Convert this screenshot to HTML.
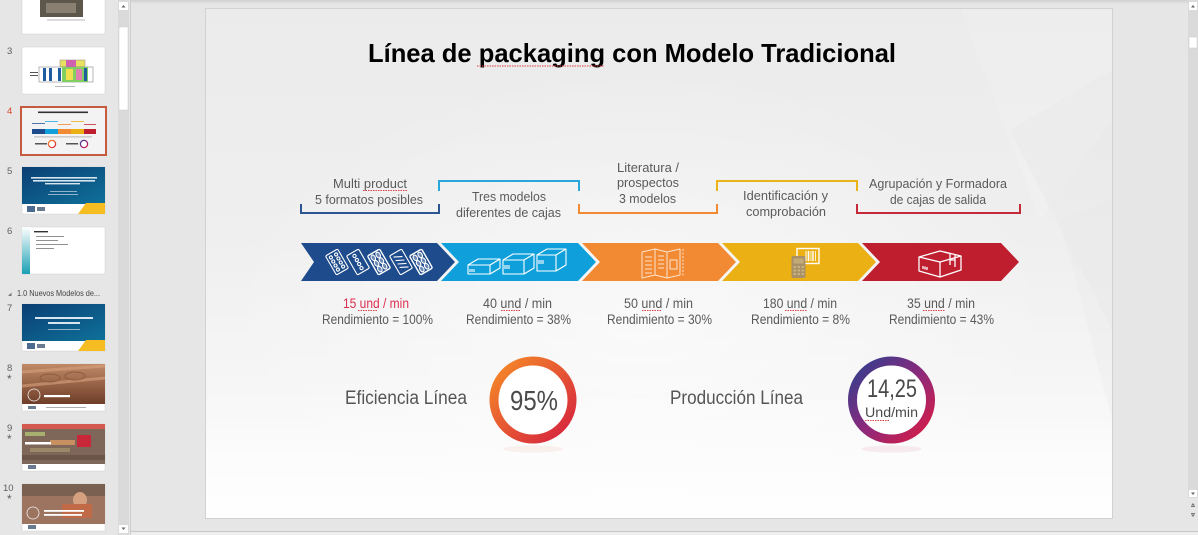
<!DOCTYPE html>
<html><head><meta charset="utf-8">
<style>
html,body{margin:0;padding:0;width:1198px;height:535px;overflow:hidden;background:#e6e6e6;}
svg{display:block;font-family:"Liberation Sans",Arial,sans-serif;}
</style></head><body>
<svg width="1198" height="535" viewBox="0 0 1198 535" xmlns="http://www.w3.org/2000/svg">
<defs>
 <linearGradient id="sbgl" x1="0" y1="0" x2="0" y2="1">
  <stop offset="0" stop-color="#ebebeb"/>
  <stop offset="0.45" stop-color="#efefef"/>
  <stop offset="0.75" stop-color="#f6f6f6"/>
  <stop offset="1" stop-color="#fdfdfd"/>
 </linearGradient>
 <linearGradient id="botfade" x1="0" y1="0" x2="0" y2="1">
  <stop offset="0" stop-color="#ffffff" stop-opacity="0"/>
  <stop offset="1" stop-color="#ffffff" stop-opacity="0.6"/>
 </linearGradient>
 <radialGradient id="sbg" gradientUnits="userSpaceOnUse" cx="640" cy="320" r="420" gradientTransform="translate(640 320) scale(1 0.6) translate(-640 -320)">
  <stop offset="0" stop-color="#ffffff" stop-opacity="0.55"/>
  <stop offset="1" stop-color="#ffffff" stop-opacity="0"/>
 </radialGradient>
 <linearGradient id="g1" x1="0" y1="0" x2="1" y2="1">
  <stop offset="0" stop-color="#f68c27"/>
  <stop offset="1" stop-color="#d5203f"/>
 </linearGradient>
 <linearGradient id="g2" x1="0" y1="0" x2="1" y2="1">
  <stop offset="0" stop-color="#2d3f8f"/>
  <stop offset="0.5" stop-color="#8a2a7c"/>
  <stop offset="1" stop-color="#db1b43"/>
 </linearGradient>
 <linearGradient id="topsh" x1="0" y1="0" x2="0" y2="1">
  <stop offset="0" stop-color="#cfcfcf"/>
  <stop offset="1" stop-color="#e6e6e6"/>
 </linearGradient>
 <linearGradient id="blueth" x1="0" y1="0" x2="1" y2="1">
  <stop offset="0" stop-color="#0b3f74"/>
  <stop offset="1" stop-color="#0e7199"/>
 </linearGradient>
 <linearGradient id="tealbar" x1="0" y1="0" x2="0" y2="1">
  <stop offset="0" stop-color="#ffffff"/>
  <stop offset="1" stop-color="#1aa0b4"/>
 </linearGradient>
 <linearGradient id="choc" x1="0" y1="0" x2="0" y2="1">
  <stop offset="0" stop-color="#c08a68"/>
  <stop offset="1" stop-color="#6e3d28"/>
 </linearGradient>
</defs>

<!-- ===== Left panel ===== -->
<rect x="0" y="0" width="118" height="535" fill="#e6e6e6"/>

<!-- thumb 2 partial -->
<rect x="22" y="-1" width="83" height="35" fill="#fff" stroke="#d0d0d0" stroke-width="0.5"/>
<rect x="40" y="0" width="43" height="17" fill="#5d564b"/>
<rect x="46" y="3" width="30" height="10" fill="#8a8072"/>
<rect x="47" y="19.5" width="38" height="1" fill="#b8b8b8"/>

<!-- thumb 3 -->
<text x="7" y="54" font-size="9.5" fill="#5f5f5f">3</text>
<rect x="22" y="47" width="83" height="47" fill="#fff" stroke="#d0d0d0" stroke-width="0.5"/>
<rect x="60" y="60" width="25" height="7" fill="#e8e060" stroke="#888" stroke-width="0.5"/>
<rect x="66" y="60" width="10" height="7" fill="#d060b0"/>
<rect x="39" y="67" width="54" height="15" fill="#fff" stroke="#888" stroke-width="0.6"/>
<rect x="43" y="68" width="3" height="13" fill="#1e5ea0"/>
<rect x="49" y="68" width="3" height="13" fill="#1e5ea0"/>
<rect x="58" y="68" width="3" height="13" fill="#1e5ea0"/>
<rect x="62" y="67" width="26" height="15" fill="#7fd060"/>
<rect x="66" y="69" width="7" height="11" fill="#f0e050"/>
<rect x="76" y="69" width="6" height="11" fill="#e080b0"/>
<rect x="84" y="68" width="3" height="13" fill="#1e5ea0"/>
<rect x="30" y="72" width="8" height="1" fill="#555"/>
<rect x="30" y="75" width="8" height="1" fill="#555"/>
<rect x="55" y="86" width="20" height="0.8" fill="#aaa"/>

<!-- thumb 4 selected -->
<text x="7" y="114" font-size="9.5" fill="#d24726">4</text>
<rect x="21" y="107" width="85" height="48" fill="#f3f3f3" stroke="#c55a3c" stroke-width="2"/>
<rect x="38" y="111.5" width="50" height="1.6" fill="#333"/>
<rect x="32" y="123" width="13" height="0.8" fill="#2b5593"/>
<rect x="45" y="121" width="13" height="0.8" fill="#2ba6dd"/>
<rect x="58" y="124" width="13" height="0.8" fill="#f28a33"/>
<rect x="71" y="121" width="13" height="0.8" fill="#ebb31a"/>
<rect x="84" y="124" width="12" height="0.8" fill="#c42a3a"/>
<rect x="32" y="129" width="13" height="5" fill="#1d4b8c"/>
<rect x="45" y="129" width="13" height="5" fill="#0fa0dc"/>
<rect x="58" y="129" width="13" height="5" fill="#f28a33"/>
<rect x="71" y="129" width="13" height="5" fill="#ebb013"/>
<rect x="84" y="129" width="12" height="5" fill="#bf1e2e"/>
<rect x="34" y="136.5" width="58" height="0.8" fill="#aaa"/>
<rect x="35" y="143" width="12" height="1.5" fill="#555"/>
<circle cx="52" cy="144" r="3.6" fill="#fff" stroke="url(#g1)" stroke-width="1.3"/>
<rect x="66" y="143" width="12" height="1.5" fill="#555"/>
<circle cx="84" cy="144" r="3.6" fill="#fff" stroke="url(#g2)" stroke-width="1.3"/>

<!-- thumb 5 -->
<text x="7" y="174" font-size="9.5" fill="#5f5f5f">5</text>
<rect x="22" y="167" width="83" height="47" fill="#fff" stroke="#d0d0d0" stroke-width="0.5"/>
<rect x="22" y="167" width="83" height="37" fill="url(#blueth)"/>
<rect x="31" y="177" width="66" height="1.6" fill="#d8e6f0"/>
<rect x="33" y="180" width="62" height="1.6" fill="#d8e6f0"/>
<rect x="45" y="183" width="35" height="1.4" fill="#d8e6f0"/>
<rect x="50" y="191" width="27" height="0.8" fill="#b0c8dc"/>
<rect x="48" y="194" width="30" height="0.8" fill="#b0c8dc"/>
<polygon points="86,203 105,203 105,214 78,214" fill="#f6bd22"/>
<rect x="27" y="206" width="8" height="6" fill="#4a6a90"/>
<rect x="37" y="207" width="8" height="4" fill="#6a7a90"/>

<!-- thumb 6 -->
<text x="7" y="234" font-size="9.5" fill="#5f5f5f">6</text>
<rect x="22" y="227" width="83" height="47" fill="#fff" stroke="#d0d0d0" stroke-width="0.5"/>
<rect x="22" y="227" width="8" height="47" fill="url(#tealbar)"/>
<rect x="34" y="231" width="14" height="1.4" fill="#333"/>
<rect x="36" y="236" width="28" height="0.8" fill="#777"/>
<rect x="36" y="240" width="22" height="0.8" fill="#777"/>
<rect x="36" y="244" width="32" height="0.8" fill="#777"/>
<rect x="36" y="248" width="18" height="0.8" fill="#777"/>

<!-- section header -->
<polygon points="8,296 11.5,296 11.5,292.5" fill="#777"/>
<text x="17" y="296" font-size="8.5" fill="#444" textLength="83" lengthAdjust="spacingAndGlyphs">1.0 Nuevos Modelos de...</text>

<!-- thumb 7 -->
<text x="7" y="311" font-size="9.5" fill="#5f5f5f">7</text>
<rect x="22" y="304" width="83" height="47" fill="#fff" stroke="#d0d0d0" stroke-width="0.5"/>
<rect x="22" y="304" width="83" height="37" fill="url(#blueth)"/>
<rect x="35" y="317" width="58" height="2" fill="#d8e6f0"/>
<rect x="48" y="322" width="32" height="2" fill="#d8e6f0"/>
<rect x="48" y="329" width="32" height="0.8" fill="#b0c8dc"/>
<polygon points="86,340 105,340 105,351 78,351" fill="#f6bd22"/>
<rect x="27" y="343" width="8" height="6" fill="#4a6a90"/>
<rect x="37" y="344" width="8" height="4" fill="#6a7a90"/>

<!-- thumb 8 -->
<text x="7" y="371" font-size="9.5" fill="#5f5f5f">8</text>
<text x="7" y="383" font-size="12" fill="#5f5f5f">*</text>
<rect x="22" y="364" width="83" height="47" fill="#fff" stroke="#d0d0d0" stroke-width="0.5"/>
<rect x="22" y="364" width="83" height="40" fill="url(#choc)"/>
<path d="M22,372 L105,366 M22,386 L105,378" stroke="#d8a27e" stroke-width="3" opacity="0.6"/>
<ellipse cx="50" cy="378" rx="10" ry="4" fill="none" stroke="#8e5a3c" stroke-width="1"/>
<ellipse cx="75" cy="376" rx="10" ry="4" fill="none" stroke="#8e5a3c" stroke-width="1"/>
<circle cx="34" cy="395" r="6" fill="none" stroke="#eee" stroke-width="0.8"/>
<rect x="44" y="395" width="26" height="2.2" fill="#fff"/>
<rect x="28" y="406" width="8" height="3" fill="#6a7a90"/>
<rect x="46" y="407" width="40" height="0.8" fill="#999"/>

<!-- thumb 9 -->
<text x="7" y="431" font-size="9.5" fill="#5f5f5f">9</text>
<text x="7" y="443" font-size="12" fill="#5f5f5f">*</text>
<rect x="22" y="424" width="83" height="47" fill="#fff" stroke="#d0d0d0" stroke-width="0.5"/>
<rect x="22" y="424" width="83" height="40" fill="#7e6658"/>
<rect x="22" y="424" width="83" height="5" fill="#d45a50"/>
<rect x="25" y="432" width="20" height="4" fill="#a8b070"/>
<rect x="50" y="440" width="25" height="5" fill="#c89060"/>
<rect x="30" y="448" width="40" height="4" fill="#9a8868"/>
<rect x="22" y="455" width="83" height="5" fill="#6a5548"/>
<rect x="77" y="435" width="14" height="12" fill="#c8283a"/>
<rect x="25" y="442" width="26" height="2.5" fill="#fff"/>
<rect x="28" y="465" width="8" height="4" fill="#6a7a90"/>

<!-- thumb 10 -->
<text x="3" y="491" font-size="9.5" fill="#5f5f5f">10</text>
<text x="7" y="503" font-size="12" fill="#5f5f5f">*</text>
<rect x="22" y="484" width="83" height="47" fill="#fff" stroke="#d0d0d0" stroke-width="0.5"/>
<rect x="22" y="484" width="83" height="40" fill="#9c7460"/>
<rect x="22" y="484" width="83" height="12" fill="#7a6050"/>
<ellipse cx="80" cy="500" rx="7" ry="8" fill="#d4a080"/>
<rect x="62" y="504" width="30" height="14" fill="#c06a48"/>
<circle cx="33" cy="513" r="6" fill="none" stroke="#eee" stroke-width="0.8"/>
<rect x="44" y="510" width="40" height="1.8" fill="#fff"/>
<rect x="44" y="514" width="38" height="1.8" fill="#fff"/>
<rect x="28" y="525" width="8" height="4" fill="#6a7a90"/>

<!-- left scrollbar -->
<rect x="118" y="0" width="11" height="535" fill="#dadada"/>
<rect x="119" y="2" width="9" height="8" fill="#fff"/>
<polygon points="121.5,7.5 125.5,7.5 123.5,5" fill="#666"/>
<rect x="119" y="27" width="9" height="83" fill="#fff" stroke="#c9c9c9" stroke-width="0.5"/>
<rect x="119" y="525" width="9" height="8" fill="#fff"/>
<polygon points="121.5,527.5 125.5,527.5 123.5,530" fill="#666"/>
<line x1="130.5" y1="0" x2="130.5" y2="535" stroke="#cdcdcd"/>

<!-- ===== Main area ===== -->
<rect x="131" y="0" width="1067" height="4" fill="url(#topsh)"/>
<line x1="131" y1="531.5" x2="1198" y2="531.5" stroke="#c8c8c8"/>
<rect x="131" y="532" width="1067" height="3" fill="#eeeeee"/>

<!-- right scrollbar -->
<rect x="1188" y="0" width="10" height="498" fill="#dadada"/>
<rect x="1189" y="2" width="8" height="8" fill="#fff"/>
<polygon points="1191,7.5 1195,7.5 1193,5" fill="#666"/>
<rect x="1189" y="37" width="8" height="11" fill="#fff" stroke="#c9c9c9" stroke-width="0.5"/>
<rect x="1189" y="490" width="8" height="7" fill="#fff"/>
<polygon points="1191,492.5 1195,492.5 1193,495" fill="#666"/>
<polygon points="1191,505.5 1195,505.5 1193,503" fill="#777"/>
<rect x="1191" y="506" width="4" height="1" fill="#777"/>
<polygon points="1191,514.5 1195,514.5 1193,517" fill="#777"/>
<rect x="1191" y="513" width="4" height="1" fill="#777"/>

<!-- ===== Slide ===== -->
<rect x="205.5" y="8.5" width="907" height="510" fill="url(#sbgl)" stroke="#d2d2d2"/>
<rect x="206" y="9" width="906" height="509" fill="url(#sbg)"/>
<polygon points="960,9 1112,9 1112,120 1040,220" fill="#ffffff" opacity="0.12"/>
<polygon points="1010,130 1112,70 1112,330" fill="#e4e4e4" opacity="0.3"/>
<polygon points="1060,220 1112,200 1112,420" fill="#e8e8e8" opacity="0.3"/>
<rect x="206" y="380" width="906" height="138" fill="url(#botfade)"/>

<!-- Title -->
<text x="368" y="62" font-size="26" font-weight="bold" fill="#000" textLength="528" lengthAdjust="spacingAndGlyphs">Línea de packaging con Modelo Tradicional</text>
<line x1="477" y1="66" x2="604" y2="66" stroke="#e04040" stroke-width="1" stroke-dasharray="1.5,1"/>

<!-- Brackets -->
<g fill="none" stroke-width="2" stroke-linejoin="miter">
 <polyline points="301,204 301,213 439,213 439,204" stroke="#2b5593"/>
 <polyline points="439,191 439,181 579,181 579,191" stroke="#2ba6dd"/>
 <polyline points="579,204 579,213 717,213 717,204" stroke="#f28a33"/>
 <polyline points="717,191 717,181 857,181 857,191" stroke="#ebb31a"/>
 <polyline points="857,204 857,213 1020,213 1020,204" stroke="#c42a3a"/>
</g>

<!-- Bracket labels -->
<g font-size="13" fill="#5a5a5a">
 <text x="333" y="188" textLength="74" lengthAdjust="spacingAndGlyphs">Multi product</text>
 <text x="315" y="204" textLength="108" lengthAdjust="spacingAndGlyphs">5 formatos posibles</text>
 <text x="472" y="201" textLength="74" lengthAdjust="spacingAndGlyphs">Tres modelos</text>
 <text x="456" y="217" textLength="105" lengthAdjust="spacingAndGlyphs">diferentes de cajas</text>
 <text x="617" y="172" textLength="62" lengthAdjust="spacingAndGlyphs">Literatura /</text>
 <text x="617" y="187" textLength="62" lengthAdjust="spacingAndGlyphs">prospectos</text>
 <text x="619" y="203" textLength="57" lengthAdjust="spacingAndGlyphs">3 modelos</text>
 <text x="743" y="200" textLength="85" lengthAdjust="spacingAndGlyphs">Identificación y</text>
 <text x="746" y="216" textLength="80" lengthAdjust="spacingAndGlyphs">comprobación</text>
 <text x="869" y="188" textLength="138" lengthAdjust="spacingAndGlyphs">Agrupación y Formadora</text>
 <text x="890" y="204" textLength="96" lengthAdjust="spacingAndGlyphs">de cajas de salida</text>
</g>
<line x1="363" y1="190.5" x2="407" y2="190.5" stroke="#e04040" stroke-width="0.9" stroke-dasharray="1.5,1"/>

<!-- Chevrons -->
<polygon points="301,243 437,243 455,262 437,281 301,281 314,262" fill="#1d4b8c"/>
<polygon points="441,243 578,243 596,262 578,281 441,281 459,262" fill="#0fa0dc"/>
<polygon points="582,243 718,243 736,262 718,281 582,281 600,262" fill="#f28a33"/>
<polygon points="722,243 858,243 876,262 858,281 722,281 740,262" fill="#ebb013"/>
<polygon points="862,243 1001,243 1019,262 1001,281 862,281 880,262" fill="#bf1e2e"/>

<!-- Blister icons -->
<g fill="none" stroke="#fff" stroke-width="1.1">
 <g transform="translate(337,262) rotate(-30)">
  <rect x="-7" y="-11" width="14" height="22" rx="1.5"/>
  <circle cx="-3" cy="-7" r="1.5"/><circle cx="3" cy="-7" r="1.5"/>
  <circle cx="-3" cy="-2.3" r="1.5"/><circle cx="3" cy="-2.3" r="1.5"/>
  <circle cx="-3" cy="2.3" r="1.5"/><circle cx="3" cy="2.3" r="1.5"/>
  <circle cx="-3" cy="7" r="1.5"/><circle cx="3" cy="7" r="1.5"/>
 </g>
 <g transform="translate(358,262) rotate(-30)">
  <rect x="-7" y="-11" width="14" height="22" rx="1.5"/>
  <circle cx="0" cy="-7" r="1.6"/><circle cx="0" cy="-2.3" r="1.6"/>
  <circle cx="0" cy="2.3" r="1.6"/><circle cx="0" cy="7" r="1.6"/>
 </g>
 <g transform="translate(379,262) rotate(-30)">
  <rect x="-7" y="-11" width="14" height="22" rx="1.5" stroke-width="1.4"/>
  <ellipse cx="-2.8" cy="-6.5" rx="2" ry="3" fill="#fff" fill-opacity="0.35"/><ellipse cx="2.8" cy="-6.5" rx="2" ry="3" fill="#fff" fill-opacity="0.35"/>
  <ellipse cx="-2.8" cy="0" rx="2" ry="3" fill="#fff" fill-opacity="0.35"/><ellipse cx="2.8" cy="0" rx="2" ry="3" fill="#fff" fill-opacity="0.35"/>
  <ellipse cx="-2.8" cy="6.5" rx="2" ry="3" fill="#fff" fill-opacity="0.35"/><ellipse cx="2.8" cy="6.5" rx="2" ry="3" fill="#fff" fill-opacity="0.35"/>
 </g>
 <g transform="translate(401,262) rotate(-30)">
  <rect x="-7" y="-11" width="14" height="22" rx="1.5"/>
  <path d="M-4,-8 L4,-4 M-4,-4 L4,0 M-4,0 L4,4 M-4,4 L4,8"/>
 </g>
 <g transform="translate(421,262) rotate(-30)">
  <rect x="-7" y="-11" width="14" height="22" rx="1.5" stroke-width="1.4"/>
  <ellipse cx="-2.8" cy="-6.5" rx="2" ry="3" fill="#fff" fill-opacity="0.35"/><ellipse cx="2.8" cy="-6.5" rx="2" ry="3" fill="#fff" fill-opacity="0.35"/>
  <ellipse cx="-2.8" cy="0" rx="2" ry="3" fill="#fff" fill-opacity="0.35"/><ellipse cx="2.8" cy="0" rx="2" ry="3" fill="#fff" fill-opacity="0.35"/>
  <ellipse cx="-2.8" cy="6.5" rx="2" ry="3" fill="#fff" fill-opacity="0.35"/><ellipse cx="2.8" cy="6.5" rx="2" ry="3" fill="#fff" fill-opacity="0.35"/>
 </g>
</g>

<!-- Boxes icons -->
<g fill="none" stroke="#fff" stroke-width="1.1" stroke-linejoin="round">
 <path d="M468,265 L478,259 L500,259 L490,265 Z M468,265 V274 H490 V265 M490,274 L500,268 V259"/>
 <path d="M470,269 V272 M472,269 V272 M474,269 V272"/>
 <path d="M503,260 L513,254 L534,254 L524,260 Z M503,260 V274 H524 V260 M524,274 L534,268 V254"/>
 <path d="M505,265 V269 M507,265 V269 M509,265 V269"/>
 <path d="M537,255 L547,249 L566,249 L556,255 Z M537,255 V271 H556 V255 M556,271 L566,265 V249"/>
 <path d="M539,260 V264 M541,260 V264 M543,260 V264"/>
</g>

<!-- Leaflet icon -->
<g fill="none" stroke="#fde3cc" stroke-width="1" stroke-linejoin="round">
 <path d="M642,252 L655,249 L667,252 L680,249 L680,275 L667,278 L655,275 L642,278 Z"/>
 <path d="M655,249 V275 M667,252 V278"/>
 <path d="M645,257 H652 M645,261 H652 M645,265 H652 M645,269 H652 M645,273 H652"/>
 <path d="M658,256 H664 M658,260 H664 M658,264 H664 M658,268 H664"/>
 <rect x="670" y="260" width="7" height="9"/>
 <path d="M683,249 V277" stroke-dasharray="2,1.5"/>
</g>

<!-- Scanner icon -->
<rect x="797" y="248.5" width="22" height="15" fill="none" stroke="#fff" stroke-width="1.4"/>
<g stroke="#fff">
 <line x1="806" y1="251" x2="806" y2="261" stroke-width="1"/>
 <line x1="808.5" y1="251" x2="808.5" y2="261" stroke-width="1.6"/>
 <line x1="811" y1="251" x2="811" y2="261" stroke-width="0.8"/>
 <line x1="813" y1="251" x2="813" y2="261" stroke-width="1.4"/>
 <line x1="815.5" y1="251" x2="815.5" y2="261" stroke-width="0.8"/>
</g>
<rect x="791.5" y="256" width="14" height="22" rx="2" fill="#a89068"/>
<rect x="793.5" y="258.5" width="10" height="5" fill="#c3ab78"/>
<g fill="#c9b27e">
 <rect x="793.5" y="266" width="2.5" height="2"/><rect x="797.5" y="266" width="2.5" height="2"/><rect x="801.5" y="266" width="2.5" height="2"/>
 <rect x="793.5" y="269.5" width="2.5" height="2"/><rect x="797.5" y="269.5" width="2.5" height="2"/><rect x="801.5" y="269.5" width="2.5" height="2"/>
 <rect x="793.5" y="273" width="2.5" height="2"/><rect x="797.5" y="273" width="2.5" height="2"/><rect x="801.5" y="273" width="2.5" height="2"/>
</g>

<!-- Red box icon -->
<g fill="none" stroke="#fff" stroke-width="1.3" stroke-linejoin="round">
 <path d="M919,257 L940,251 L961,256 L940,262 Z"/>
 <path d="M919,257 V271 L940,277 V262"/>
 <path d="M961,256 V270 L940,277"/>
 <path d="M944,252 L950,253.5 L950,265 M955,255 L955,267 M950,260 L955,260"/>
 <path d="M923,266 V269 M925,266.5 V269.5 M927,267 V270"/>
</g>

<!-- Rates -->
<g font-size="13.5" fill="#5a5a5a">
 <text x="343" y="308" textLength="66" lengthAdjust="spacingAndGlyphs" fill="#dc2f4f">15 und / min</text>
 <text x="322" y="324" textLength="111" lengthAdjust="spacingAndGlyphs">Rendimiento = 100%</text>
 <text x="483" y="308" textLength="69" lengthAdjust="spacingAndGlyphs">40 und / min</text>
 <text x="466" y="324" textLength="105" lengthAdjust="spacingAndGlyphs">Rendimiento = 38%</text>
 <text x="624" y="308" textLength="69" lengthAdjust="spacingAndGlyphs">50 und / min</text>
 <text x="607" y="324" textLength="105" lengthAdjust="spacingAndGlyphs">Rendimiento = 30%</text>
 <text x="763" y="308" textLength="74" lengthAdjust="spacingAndGlyphs">180 und / min</text>
 <text x="751" y="324" textLength="99" lengthAdjust="spacingAndGlyphs">Rendimiento = 8%</text>
 <text x="907" y="308" textLength="68" lengthAdjust="spacingAndGlyphs">35 und / min</text>
 <text x="889" y="324" textLength="105" lengthAdjust="spacingAndGlyphs">Rendimiento = 43%</text>
</g>
<g stroke="#e04040" stroke-width="0.9" stroke-dasharray="1.5,1">
 <line x1="358" y1="310.5" x2="378" y2="310.5"/>
 <line x1="501" y1="310.5" x2="521" y2="310.5"/>
 <line x1="642" y1="310.5" x2="662" y2="310.5"/>
 <line x1="785" y1="310.5" x2="807" y2="310.5"/>
 <line x1="923" y1="310.5" x2="945" y2="310.5"/>
</g>

<!-- Efficiency -->
<text x="345" y="404" font-size="19" fill="#555" textLength="122" lengthAdjust="spacingAndGlyphs">Eficiencia Línea</text>
<ellipse cx="533" cy="449" rx="30" ry="3.5" fill="#e8603a" opacity="0.08"/>
<circle cx="533" cy="400" r="39" fill="#fff" stroke="url(#g1)" stroke-width="9"/>
<text x="510" y="410" font-size="28" fill="#4a4a4a" textLength="48" lengthAdjust="spacingAndGlyphs">95%</text>

<!-- Production -->
<text x="670" y="404" font-size="19" fill="#555" textLength="133" lengthAdjust="spacingAndGlyphs">Producción Línea</text>
<ellipse cx="891.5" cy="449" rx="30" ry="3.5" fill="#c02060" opacity="0.08"/>
<circle cx="891.5" cy="400" r="39" fill="#fff" stroke="url(#g2)" stroke-width="9"/>
<text x="867" y="397" font-size="25" fill="#4a4a4a" textLength="50" lengthAdjust="spacingAndGlyphs">14,25</text>
<text x="865" y="417" font-size="14" fill="#4a4a4a" textLength="53" lengthAdjust="spacingAndGlyphs">Und/min</text>
<line x1="865" y1="420.5" x2="890" y2="420.5" stroke="#e04040" stroke-width="0.9" stroke-dasharray="1.5,1"/>
</svg>
</body></html>
